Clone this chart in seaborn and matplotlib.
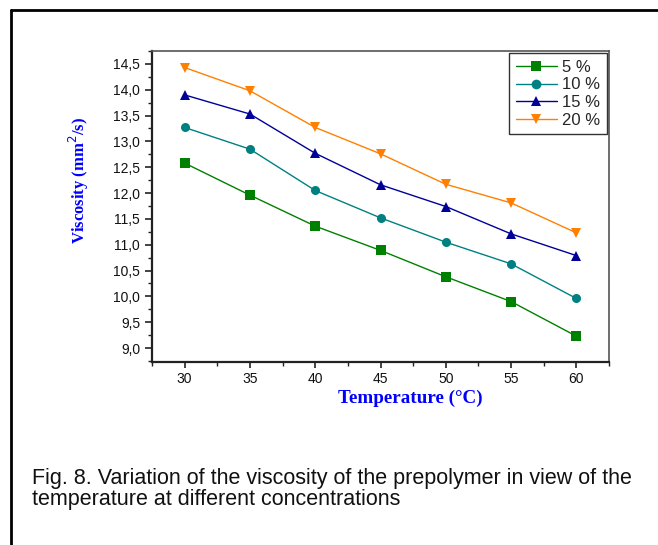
import pandas as pd
import matplotlib
matplotlib.use("Agg")
from matplotlib import pyplot as plt
from matplotlib.lines import Line2D
from matplotlib.ticker import MultipleLocator
import seaborn as sns


temperature = [30, 35, 40, 45, 50, 55, 60]
visc_5 = [12.58, 11.96, 11.36, 10.89, 10.38, 9.90, 9.23]
visc_10 = [13.27, 12.85, 12.05, 11.52, 11.05, 10.63, 9.96]
visc_15 = [13.90, 13.53, 12.77, 12.16, 11.74, 11.21, 10.79]
visc_20 = [14.43, 13.98, 13.27, 12.76, 12.17, 11.81, 11.23]

series_names = ['5 %', '10 %', '15 %', '20 %']
colors = {'5 %': '#008000', '10 %': '#008080', '15 %': '#000099', '20 %': '#ff8000'}
markers = {'5 %': 's', '10 %': 'o', '15 %': '^', '20 %': 'v'}

x_ticks = [30, 35, 40, 45, 50, 55, 60]
y_ticks = [9.0, 9.5, 10.0, 10.5, 11.0, 11.5, 12.0, 12.5, 13.0, 13.5, 14.0, 14.5]
y_tick_labels = ['9,0', '9,5', '10,0', '10,5', '11,0', '11,5', '12,0',
                 '12,5', '13,0', '13,5', '14,0', '14,5']

caption = ('Fig. 8. Variation of the viscosity of the prepolymer in view of the\n'
           'temperature at different concentrations')

rows = []
for name, vals in zip(series_names, [visc_5, visc_10, visc_15, visc_20]):
    for t, v in zip(temperature, vals):
        rows.append({'Temperature': t, 'Viscosity': v, 'conc': name})
df = pd.DataFrame(rows)

sns.set_style('ticks')
plt.rcParams['font.family'] = ['Liberation Sans', 'DejaVu Sans']

fig = plt.figure(figsize=(6.58, 5.45), dpi=100)
ax = fig.add_axes([152 / 658, 1 - 362 / 545, 457 / 658, 311 / 545])

sns.lineplot(data=df, x='Temperature', y='Viscosity', hue='conc', style='conc',
             hue_order=series_names, style_order=series_names,
             palette=colors, markers=markers, dashes=False,
             linewidth=1.0, markersize=6.5, markeredgewidth=0,
             legend=False, ax=ax)

ax.set_xlim(27.5, 62.5)
ax.set_ylim(8.73, 14.75)
ax.set_xticks(x_ticks)
ax.set_yticks(y_ticks)
ax.set_yticklabels(y_tick_labels)
ax.xaxis.set_minor_locator(MultipleLocator(2.5))
ax.yaxis.set_minor_locator(MultipleLocator(0.25))
ax.tick_params(which='major', direction='out', length=5, width=1.2,
               labelsize=10, colors='#222222', labelcolor='#111111')
ax.tick_params(axis='x', which='major', length=4, pad=3)
ax.tick_params(which='minor', direction='out', length=3, width=1.0, colors='#222222')
ax.set_xlabel('')
ax.set_ylabel('')

for side in ['left', 'bottom']:
    ax.spines[side].set_linewidth(1.6)
    ax.spines[side].set_color('#222222')
for side in ['top', 'right']:
    ax.spines[side].set_visible(True)
    ax.spines[side].set_linewidth(1.2)
    ax.spines[side].set_color('#555555')

handles = [Line2D([], [], color=colors[n], marker=markers[n], markersize=7,
                  markeredgewidth=0, linewidth=1.0)
           for n in series_names]
leg = ax.legend(handles, series_names, loc='upper right', fontsize=12,
                frameon=True, fancybox=False, borderaxespad=0.12,
                handlelength=2.5, handletextpad=0.3, labelspacing=0.16,
                borderpad=0.4)
leg.get_frame().set_edgecolor('black')
leg.get_frame().set_linewidth(1.0)

fig.text(410 / 658, 1 - 398 / 545, 'Temperature (\u00b0C)', color='#0000ff',
         fontsize=13.8, fontweight='bold', family='Liberation Serif',
         ha='center', va='center')
fig.text(79 / 658, 1 - 180 / 545, 'Viscosity (mm$^2$/s)', color='#0000ff',
         fontsize=12, fontweight='bold', family='Liberation Serif',
         rotation=90, ha='center', va='center')

fig.text(32 / 658, 1 - 489 / 545, caption, fontsize=15.5, color='#111111',
         ha='left', va='center', linespacing=0.95)

# outer frame (top and left edges only)
fig.add_artist(Line2D([11 / 658, 11 / 658], [0, 1 - 10 / 545], color='black',
                      linewidth=2, transform=fig.transFigure))
fig.add_artist(Line2D([11 / 658, 1], [1 - 10 / 545, 1 - 10 / 545], color='black',
                      linewidth=2, transform=fig.transFigure))

fig.savefig('out.png', dpi=100)
